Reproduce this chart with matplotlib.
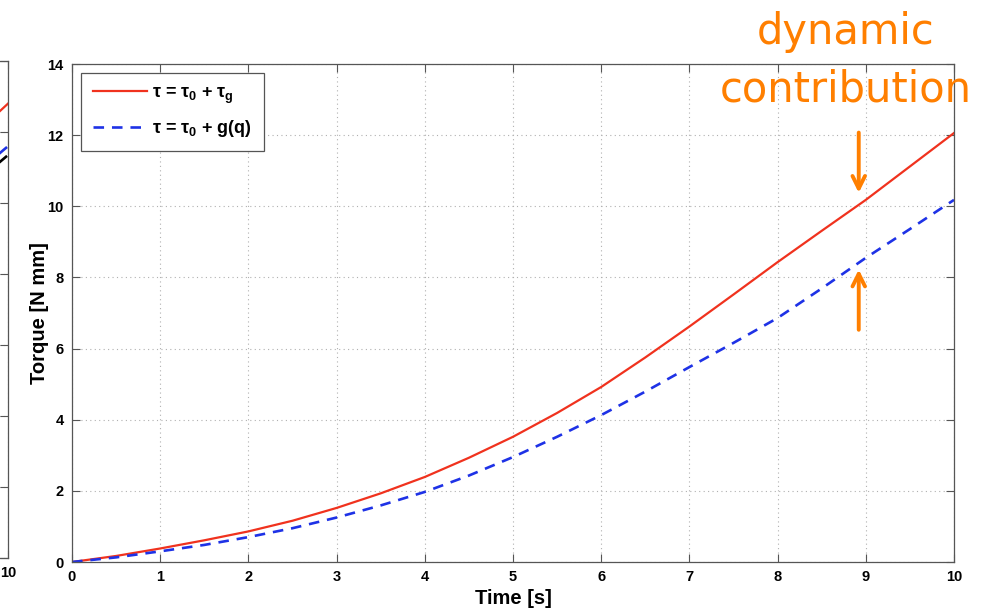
import matplotlib
matplotlib.use("Agg")
import matplotlib.pyplot as plt
import numpy as np

plt.rcParams['font.family'] = ['Liberation Sans', 'DejaVu Sans']
plt.rcParams['mathtext.fontset'] = 'custom'
plt.rcParams['mathtext.rm'] = 'Liberation Sans:bold'
plt.rcParams['mathtext.it'] = 'Liberation Sans:bold'
plt.rcParams['mathtext.bf'] = 'Liberation Sans:bold'
plt.rcParams['mathtext.default'] = 'regular'

# Joint torque over time
time_s = [0, 0.5, 1, 1.5, 2, 2.5, 3, 3.5, 4, 4.5, 5, 5.5, 6, 6.5, 7, 7.5,
          8, 8.5, 9, 9.5, 10]
tau_full = [0.0, 0.17, 0.38, 0.61, 0.86, 1.16, 1.52, 1.93, 2.39, 2.93,
            3.52, 4.19, 4.92, 5.75, 6.62, 7.52, 8.43, 9.31, 10.18, 11.12,
            12.06]
tau_static = [0.0, 0.13, 0.30, 0.48, 0.70, 0.95, 1.25, 1.59, 1.97, 2.43,
              2.95, 3.52, 4.13, 4.79, 5.48, 6.16, 6.86, 7.69, 8.55, 9.36,
              10.18]

# Neighbouring panel (only its right edge is in view)
side_time = [9.5, 10]
side_red = [11.65, 12.8]
side_blue = [10.55, 11.6]
side_black = [10.3, 11.35]

x_ticks = [0, 1, 2, 3, 4, 5, 6, 7, 8, 9, 10]
y_ticks = [0, 2, 4, 6, 8, 10, 12, 14]

# Arrow positions for the dynamic-contribution callout
arrow_t = 8.92
arrow_down = (12.15, 10.3)
arrow_up = (6.45, 8.3)

RED = '#f0321e'
BLUE = '#1e32e6'
ORANGE = '#ff7f00'
SPINE = '#555555'

fig = plt.figure(figsize=(9.85, 6.08), dpi=100)


def style_axes(ax):
    ax.set_xlim(0, 10)
    ax.set_ylim(0, 14)
    ax.set_xticks(x_ticks)
    ax.set_yticks(y_ticks)
    ax.tick_params(direction='in', length=6, width=0.8, color=SPINE,
                   top=True, right=True, labelsize=10.5, pad=6)
    for lab in ax.get_xticklabels() + ax.get_yticklabels():
        lab.set_fontweight('bold')
    for sp in ax.spines.values():
        sp.set_color(SPINE)
        sp.set_linewidth(0.9)
    ax.grid(True, linestyle=(0, (1, 3)), color='#b0b0b0', linewidth=0.8)


# Side panel, mostly outside the figure
ax0 = fig.add_axes([(8 - 882) / 985, 50 / 608, 882 / 985, 497 / 608])
style_axes(ax0)
ax0.set_yticklabels([])
ax0.set_xticklabels(['' if t != 10 else '10' for t in x_ticks],
                    fontweight='bold')
ax0.plot(side_time, side_red, color=RED, lw=1.6)
ax0.plot(side_time, side_blue, color=BLUE, lw=1.9, ls=(0, (4, 3)))
ax0.plot(side_time, side_black, color='black', lw=1.9, ls=(0, (4, 3)))

# Main panel
ax = fig.add_axes([72 / 985, 46 / 608, 882 / 985, 498 / 608])
style_axes(ax)
ax.plot(time_s, tau_full, color=RED, lw=1.6,
        label=r'τ = τ$_{0}$ + τ$_{g}$')
ax.plot(time_s, tau_static, color=BLUE, lw=1.9, ls=(0, (4, 3)),
        label=r'τ = τ$_{0}$ + g(q)')

leg = ax.legend(loc='upper left', bbox_to_anchor=(0.0, 1.0),
                fancybox=False, edgecolor=SPINE, framealpha=1,
                handlelength=3.0, handletextpad=0.3, borderpad=0.65,
                labelspacing=0.7, prop={'weight': 'bold', 'size': 13})
leg.get_frame().set_linewidth(0.9)

ax.set_xlabel('Time [s]', fontsize=14.5, fontweight='bold', labelpad=3)
ax.set_ylabel('Torque [N mm]', fontsize=14.5, fontweight='bold', labelpad=-1)

# Callout
ax.annotate('', xy=(arrow_t, arrow_down[1]), xytext=(arrow_t, arrow_down[0]),
            arrowprops=dict(arrowstyle='->,head_length=0.9,head_width=0.45',
                            color=ORANGE, lw=2.8), annotation_clip=False)
ax.annotate('', xy=(arrow_t, arrow_up[1]), xytext=(arrow_t, arrow_up[0]),
            arrowprops=dict(arrowstyle='->,head_length=0.9,head_width=0.45',
                            color=ORANGE, lw=2.8), annotation_clip=False)
fig.text(846 / 985, 1 - 32 / 608, 'dynamic', color=ORANGE, fontsize=30,
         family='DejaVu Sans', ha='center', va='center')
fig.text(846 / 985, 1 - 90 / 608, 'contribution', color=ORANGE, fontsize=30,
         family='DejaVu Sans', ha='center', va='center')

fig.savefig('out.png', dpi=100)
